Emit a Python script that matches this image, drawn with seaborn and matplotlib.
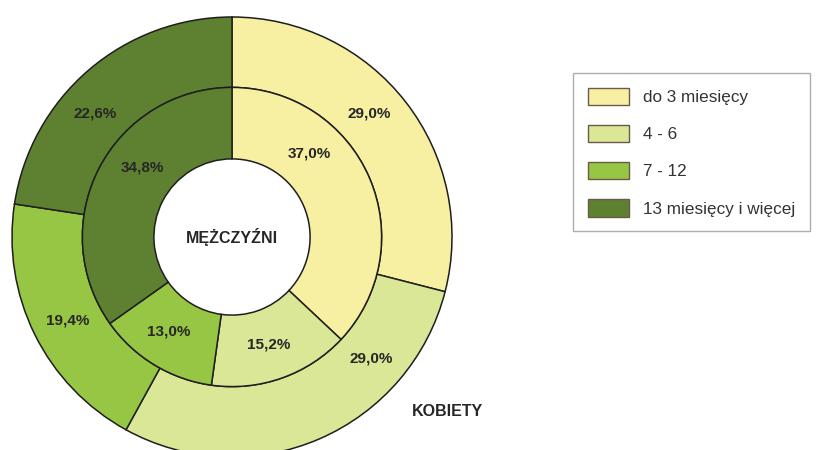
import numpy as np
import pandas as pd
import matplotlib
matplotlib.use("Agg")
import matplotlib.pyplot as plt
import seaborn as sns

sns.set_theme(style="white")
plt.rcParams["font.family"] = ["Liberation Sans", "DejaVu Sans"]

# czas pozostawania bez pracy
categories = ["do 3 miesięcy", "4 - 6", "7 - 12", "13 miesięcy i więcej"]
kobiety = [29.0, 29.0, 19.4, 22.6]      # outer ring
mezczyzni = [37.0, 15.2, 13.0, 34.8]    # inner ring

colors = sns.color_palette(["#F7F0A2", "#D9E796", "#96C644", "#5E8131"])
edge = "#1e1e1e"

# where the original puts its percent labels (degrees, not always mid-wedge)
outer_lab_deg = [42, -41, -153, 138]
inner_lab_deg = [47, -71, -124, 142]


def pct_fmt(p):
    return f"{p:.1f}%".replace(".", ",")


fig = plt.figure(figsize=(8.17, 4.5), dpi=100)
# square axes centred on the donut, radius ~220 px
cx, cy, r = 232, 237, 220
ax = fig.add_axes([(cx - r) / 817, (450 - cy - r) / 450, 2 * r / 817, 2 * r / 450])

outer_w = 0.32
inner_r = 0.68
inner_w = 0.325
lab_kw = dict(fontsize=11, color="#262626", fontweight="bold")

wedges_o, _, txt_o = ax.pie(kobiety, radius=1.0, colors=colors, startangle=90,
                            counterclock=False, autopct=pct_fmt, pctdistance=0.84,
                            wedgeprops=dict(width=outer_w, edgecolor=edge, linewidth=1.1),
                            textprops=lab_kw)
wedges_i, _, txt_i = ax.pie(mezczyzni, radius=inner_r, colors=colors, startangle=90,
                            counterclock=False, autopct=pct_fmt, pctdistance=0.76,
                            wedgeprops=dict(width=inner_w, edgecolor=edge, linewidth=1.1),
                            textprops=lab_kw)

# shift labels along their ring to the angles used in the original
for txts, degs, rr in [(txt_o, outer_lab_deg, 0.84), (txt_i, inner_lab_deg, 0.76 * inner_r)]:
    for t, d in zip(txts, degs):
        t.set_position((rr * np.cos(np.radians(d)), rr * np.sin(np.radians(d))))

ax.set_xlim(-1, 1)
ax.set_ylim(-1, 1)
ax.set_aspect("equal")
ax.axis("off")

ax.text(0, 0, "MĘŻCZYŹNI", ha="center", va="center", fontsize=11.5,
        color="#262626", fontweight="bold")
fig.text(448 / 817, 1 - 411 / 450, "KOBIETY", ha="center", va="center",
         fontsize=11.5, color="#262626", fontweight="bold")

leg = fig.legend(wedges_o, categories, loc="upper left",
                 bbox_to_anchor=(573 / 817, 1 - 73 / 450), fontsize=12.3,
                 frameon=True, fancybox=False, handlelength=2.4, handleheight=1.2,
                 labelspacing=1.15, handletextpad=0.85, borderpad=0.85,
                 borderaxespad=0, labelcolor="#333333")
leg.get_frame().set_edgecolor("#9a9a9a")
leg.get_frame().set_linewidth(1.0)
for h in leg.legend_handles:
    h.set_edgecolor("#6b5a4a")
    h.set_linewidth(1.0)

fig.savefig("out.png", dpi=100, facecolor="white")
